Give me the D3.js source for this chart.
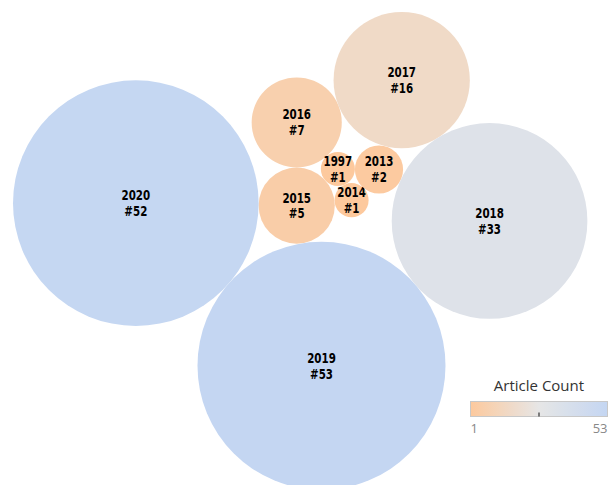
<!DOCTYPE html>
<meta charset="utf-8">
<style>
body { margin: 0; background: #fff; }
.bubble text {
  font-family: "DejaVu Sans Condensed", "DejaVu Sans", sans-serif;
  font-stretch: condensed;
  font-weight: bold;
  font-size: 13px;
  fill: #000;
  text-anchor: middle;
}
.legend-title { font: 15px "Open Sans", sans-serif; fill: #333; }
.legend-label { font: 13px "Open Sans", sans-serif; fill: #888; }
</style>
<body>
<script src="https://cdnjs.cloudflare.com/ajax/libs/d3/7.8.5/d3.min.js"></script>
<script>

var years  = ["2016", "2015", "1997", "2014", "2013", "2017", "2018", "2019", "2020"];
var counts = [7, 5, 1, 1, 2, 16, 33, 53, 52];

// packing order: each bubble touches two bubbles placed before it
// [first, second, side]
var touches = [null, null, ["2016", "2015", -1], ["2015", "1997", 1], ["1997", "2014", -1],
               ["2016", "2013", -1], ["2017", "2013", -1], ["2018", "2015", -1], ["2019", "2015", -1]];

var legendTicks = [1, 53];

var width = 609,
    height = 485;

var r = d3.scaleSqrt().domain([0, 53]).range([0, 124]);

var color = d3.scaleLinear()
    .domain([1, 27, 53])
    .range(["#fdc99d", "#e6e6e6", "#c4d6f2"])
    .interpolate(d3.interpolateRgb);

var nodes = years.map(function(y, i) {
  return {year: y, count: counts[i], r: r(counts[i])};
});
var byYear = {};
nodes.forEach(function(d) { byYear[d.year] = d; });

// first two bubbles stacked vertically
nodes[0].x = 0; nodes[0].y = 0;
nodes[1].x = 0; nodes[1].y = nodes[0].r + nodes[1].r;

function place(a, b, c, side) {
  var dx = b.x - a.x, dy = b.y - a.y,
      d = Math.sqrt(dx * dx + dy * dy),
      ux = dx / d, uy = dy / d,
      da = a.r + c.r, db = b.r + c.r,
      x = (d * d + da * da - db * db) / (2 * d),
      h = Math.sqrt(Math.max(0, da * da - x * x));
  c.x = a.x + x * ux + side * h * -uy;
  c.y = a.y + x * uy + side * h * ux;
}

for (var i = 2; i < nodes.length; i++) {
  var t = touches[i];
  place(byYear[t[0]], byYear[t[1]], nodes[i], t[2]);
}

var minX = d3.min(nodes, function(d) { return d.x - d.r; }),
    minY = d3.min(nodes, function(d) { return d.y - d.r; });

var svg = d3.select("body").append("svg")
    .attr("width", width)
    .attr("height", height);

var g = svg.append("g")
    .attr("transform", "translate(" + (13 - minX) + "," + (12 - minY) + ")");

var bubble = g.selectAll(".bubble")
    .data(nodes)
  .enter().append("g")
    .attr("class", "bubble")
    .attr("transform", function(d) { return "translate(" + d.x + "," + d.y + ")"; });

bubble.append("circle")
    .attr("r", function(d) { return d.r; })
    .attr("fill", function(d) { return color(d.count); });

var label = bubble.append("g")
    .attr("transform", "scale(0.88,1.02)");

label.append("text")
    .attr("y", -3)
    .text(function(d) { return d.year; });

label.append("text")
    .attr("y", 12.5)
    .text(function(d) { return "#" + d.count; });

// legend
var lx = 470.5, ly = 401.5, lw = 137, lh = 15;

var grad = svg.append("defs").append("linearGradient")
    .attr("id", "grad");
grad.selectAll("stop")
    .data(d3.range(0, 1.0001, 0.1))
  .enter().append("stop")
    .attr("offset", function(d) { return d; })
    .attr("stop-color", function(d) { return color(1 + d * 52); });

var lscale = d3.scaleLinear().domain([1, 53]).range([lx, lx + lw]);

svg.append("text")
    .attr("class", "legend-title")
    .attr("x", lx + lw / 2)
    .attr("y", 391)
    .attr("text-anchor", "middle")
    .text("Article Count");

svg.append("rect")
    .attr("x", lx)
    .attr("y", ly)
    .attr("width", lw)
    .attr("height", lh)
    .attr("fill", "url(#grad)")
    .attr("stroke", "#c8c8c8")
    .attr("stroke-width", 1);

svg.append("line")
    .attr("x1", lscale(27)).attr("x2", lscale(27))
    .attr("y1", ly + lh - 4).attr("y2", ly + lh)
    .attr("stroke", "#333")
    .attr("stroke-width", 1.2);

svg.selectAll(".legend-label")
    .data(legendTicks)
  .enter().append("text")
    .attr("class", "legend-label")
    .attr("x", function(d) { return lscale(d); })
    .attr("y", 433)
    .attr("text-anchor", function(d, i) { return i ? "end" : "start"; })
    .text(function(d) { return d; });

</script>
